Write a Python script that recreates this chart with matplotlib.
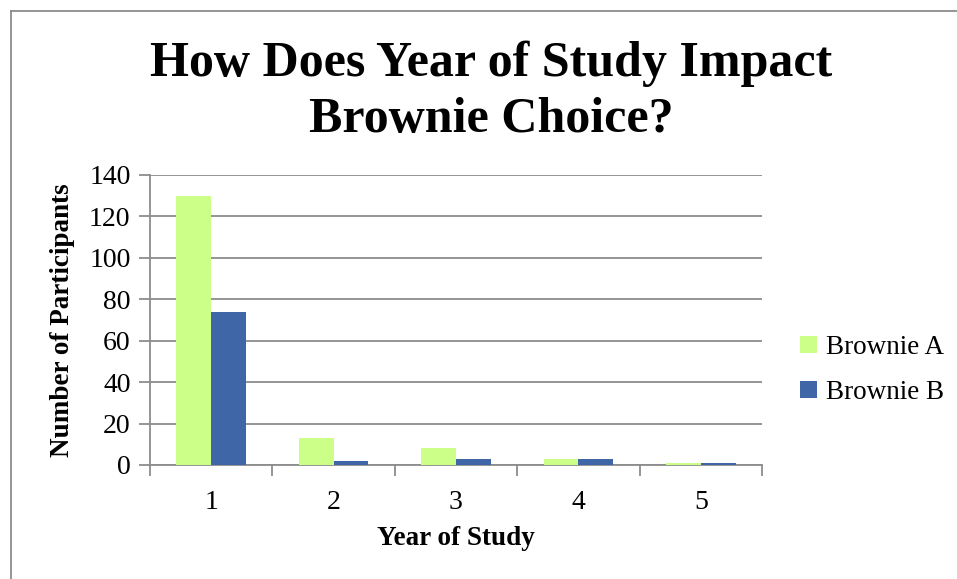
import numpy as np
import matplotlib.pyplot as plt
from matplotlib.lines import Line2D

years = ["1", "2", "3", "4", "5"]
brownie_a = [130, 13, 8, 3, 1]
brownie_b = [74, 2, 3, 3, 1]
y_ticks = [0, 20, 40, 60, 80, 100, 120, 140]

plt.rcParams['font.family'] = ['Liberation Serif', 'DejaVu Serif']

W, H = 957, 579
fig = plt.figure(figsize=(W / 100, H / 100), dpi=100)
ax = fig.add_axes([150 / W, 1 - 465 / H, 612 / W, 290 / H])

x = np.arange(len(years))
bw = 0.285
ax.bar(x - bw / 2, brownie_a, width=bw, color='#CCFF88', label='Brownie A', zorder=3)
ax.bar(x + bw / 2, brownie_b, width=bw, color='#3F67A8', label='Brownie B', zorder=3)

ax.set_xlim(-0.5, len(years) - 0.5)
ax.set_ylim(0, 140)
ax.set_yticks(y_ticks)
ax.set_xticks(x, years)
ax.set_xticks(np.arange(-0.5, len(years)), minor=True)
ax.grid(axis='y', color='#8c8c8c', linewidth=1.3, zorder=0)
for s in ['top', 'right']:
    ax.spines[s].set_visible(False)
for s in ['left', 'bottom']:
    ax.spines[s].set_color('#8c8c8c')
    ax.spines[s].set_linewidth(1.3)
ax.tick_params(axis='y', length=8, width=1.3, color='#8c8c8c', labelsize=20, pad=6)
ax.tick_params(axis='x', which='major', length=0, labelsize=20, pad=18)
ax.tick_params(axis='x', which='minor', length=8, width=1.3, color='#8c8c8c')

ax.set_ylabel('Number of Participants', fontsize=19.5, fontweight='bold', labelpad=10)
ax.set_xlabel('Year of Study', fontsize=19.5, fontweight='bold', labelpad=8)

fig.text(491 / W, 1 - 92 / H, 'How Does Year of Study Impact\nBrownie Choice?',
         ha='center', va='center', fontsize=36, fontweight='bold', linespacing=1.3)

fig.legend(loc='center left', bbox_to_anchor=(776 / W, 1 - 370 / H), frameon=False,
           fontsize=19.5, handlelength=0.6, handleheight=0.6, handletextpad=0.35,
           labelspacing=0.75)

fig.add_artist(Line2D([10.5 / W, 10.5 / W], [0, 1 - 10.5 / H], color='#8c8c8c', linewidth=1.3))
fig.add_artist(Line2D([10.5 / W, 1], [1 - 10.5 / H, 1 - 10.5 / H], color='#8c8c8c', linewidth=1.3))

fig.savefig('out.png', dpi=100)
